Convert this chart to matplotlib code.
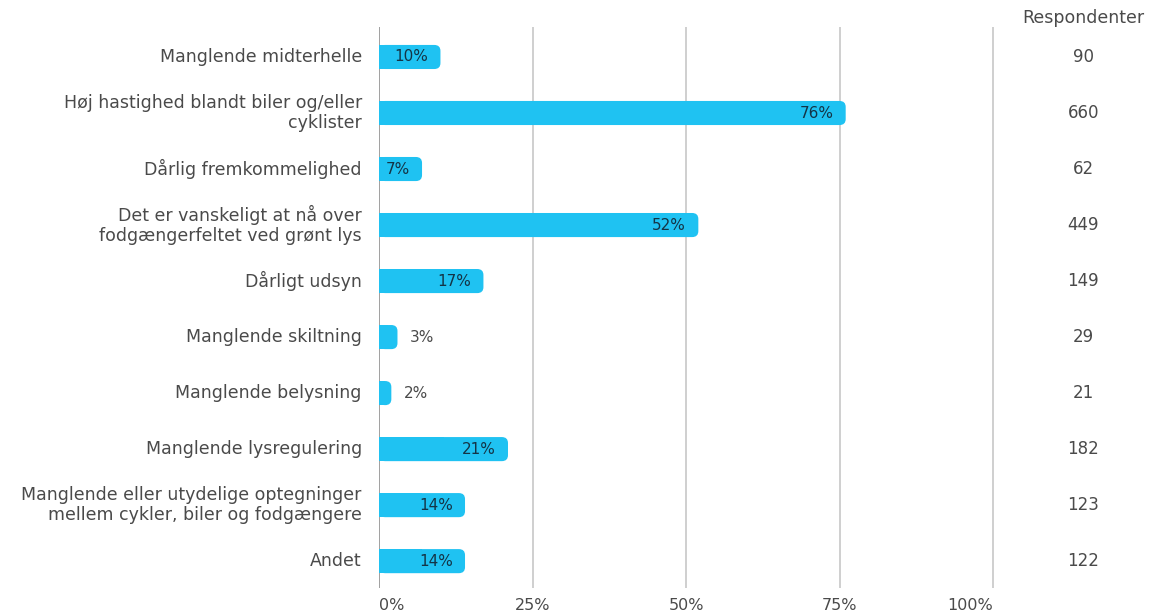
import matplotlib.pyplot as plt
from matplotlib.patches import FancyBboxPatch, Rectangle

plt.rcParams['font.family'] = ['DejaVu Sans']

# --- data ---
categories = [
    "Manglende midterhelle",
    "Høj hastighed blandt biler og/eller\ncyklister",
    "Dårlig fremkommelighed",
    "Det er vanskeligt at nå over\nfodgængerfeltet ved grønt lys",
    "Dårligt udsyn",
    "Manglende skiltning",
    "Manglende belysning",
    "Manglende lysregulering",
    "Manglende eller utydelige optegninger\nmellem cykler, biler og fodgængere",
    "Andet",
]
percent = [10, 76, 7, 52, 17, 3, 2, 21, 14, 14]
respondents = [90, 660, 62, 449, 149, 29, 21, 182, 123, 122]
xticks = [0, 25, 50, 75, 100]
xticklabels = ["0%", "25%", "50%", "75%", "100%"]

BAR_COLOR = '#1fc2f2'
LABEL_COLOR = '#4a4a4a'
INSIDE_COLOR = '#143446'
GRID_COLOR = '#cccccc'

fig = plt.figure(figsize=(11.49, 6.14), dpi=100)
ax = fig.add_axes([0.3299, 0.0423, 0.6701, 0.9137])
ax.set_xlim(0, 125.4)
ax.set_ylim(len(categories) - 0.52, -0.535)

bar_h = 0.43
radius = 1.0
aspect = (6 / 56) / radius

for i, v in enumerate(percent):
    box = FancyBboxPatch((0, i - bar_h / 2), v, bar_h,
                         boxstyle=f"round,pad=0,rounding_size={radius}",
                         mutation_aspect=aspect, fc=BAR_COLOR, ec='none', zorder=3)
    ax.add_patch(box)
    ax.add_patch(Rectangle((0, i - bar_h / 2), v / 2, bar_h, fc=BAR_COLOR, ec='none', zorder=3))
    if v >= 5:
        ax.text(v - 2.0, i, f"{v}%", ha='right', va='center', color=INSIDE_COLOR,
                fontsize=11, zorder=4)
    else:
        ax.text(v + 2.0, i, f"{v}%", ha='left', va='center', color=LABEL_COLOR,
                fontsize=11, zorder=4)
    ax.text(114.7, i, str(respondents[i]), ha='center', va='center',
            color=LABEL_COLOR, fontsize=12, clip_on=False)

ax.text(114.7, -0.70, "Respondenter", ha='center', va='center',
        color=LABEL_COLOR, fontsize=12.5, clip_on=False)

# category labels
for i, c in enumerate(categories):
    ax.text(-2.8, i, c, ha='right', va='center', multialignment='right',
            color=LABEL_COLOR, fontsize=12.5, linespacing=1.15, clip_on=False)

# vertical grid lines
for t in xticks:
    ax.axvline(t, color='#999999' if t == 0 else GRID_COLOR, lw=1.3, zorder=1)

ax.set_xticks(xticks)
ax.set_xticklabels(xticklabels, color=LABEL_COLOR, fontsize=11.5)
ax.tick_params(axis='x', length=0, pad=7)
labels = ax.get_xticklabels()
labels[0].set_horizontalalignment('left')
labels[-1].set_horizontalalignment('right')
ax.set_yticks([])
for s in ax.spines.values():
    s.set_visible(False)

fig.savefig("out.png", dpi=100, facecolor='white')
